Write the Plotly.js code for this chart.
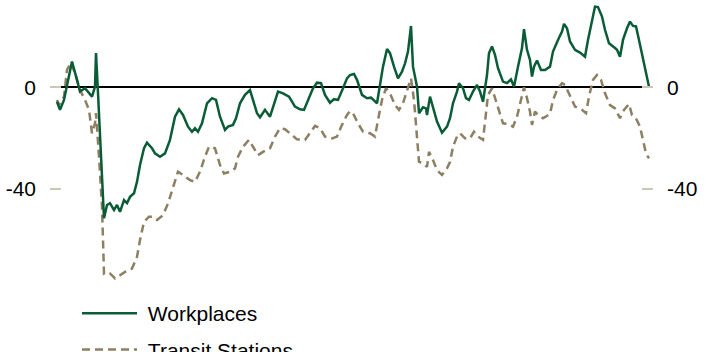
<!DOCTYPE html>
<html>
<head>
<meta charset="utf-8">
<script src="https://cdn.plot.ly/plotly-3.0.1.min.js"></script>
<style>
html, body { margin: 0; padding: 0; background: #ffffff; }
#chart { width: 708px; height: 352px; }
</style>
</head>
<body>
<div id="chart"></div>
<script>
// Days since start of series (x) and % change from baseline (y)
const workDays = [0,3,7,15,20,23,28,32,35,38,39,41,47,50,53,57,60,63,67,70,73,77,80,83,87,90,95,98,103,108,113,118,122,126,131,135,138,141,145,150,155,159,163,168,171,176,179,183,188,193,196,200,203,208,213,217,221,226,232,238,243,247,251,256,260,264,268,273,277,281,286,290,293,297,300,305,310,314,320,323,326,330,333,337,341,345,348,351,354,356,360,362,366,369,370,373,376,380,385,390,393,396,400,402,406,409,412,416,420,423,426,430,432,435,438,441,446,450,454,457,461,465,467,470,473,475,477,480,484,488,493,496,501,505,507,510,513,518,523,528,531,535,538,541,545,548,552,558,560,563,566,570,573,576,579,582,586,590,592];
const workValues = [-5.7,-8.9,-5.0,10.1,2.9,-1.7,-0.4,-2.2,-3.7,0.2,13.4,-2.2,-51.5,-46.3,-45.6,-48.3,-46.3,-49.0,-44.4,-45.6,-43.1,-41.7,-37.2,-30.6,-24.0,-21.8,-24.0,-26.0,-27.3,-26.0,-20.7,-11.6,-8.7,-10.9,-15.5,-17.5,-16.1,-17.5,-14.2,-6.3,-4.3,-5.0,-11.6,-16.8,-15.5,-14.8,-12.2,-6.3,-3.0,-1.1,-5.0,-10.2,-11.8,-8.9,-11.6,-6.3,-1.7,-2.4,-3.7,-7.6,-8.7,-8.9,-5.0,-0.4,1.8,1.6,-3.0,-6.1,-4.7,-5.0,-0.4,3.5,4.8,5.2,2.9,-3.0,-4.3,-4.1,-6.3,0.9,8.1,15.0,13.4,8.1,3.5,6.1,9.4,14.0,24.1,8.1,0.2,-10.2,-7.9,-8.3,-10.9,-3.7,-7.6,-13.5,-17.9,-15.5,-12.2,-6.3,-1.7,1.6,-0.4,-4.3,-5.0,-1.7,0.9,-1.7,-5.7,4.8,13.4,16.0,12.7,7.5,2.2,1.6,3.1,0.2,8.1,15.4,22.8,14.7,10.7,4.2,8.1,10.5,6.8,6.8,8.1,14.0,18.6,21.9,24.9,23.2,18.0,14.7,13.6,12.0,18.6,26.5,31.7,31.5,27.8,22.6,17.3,15.4,14.7,12.0,18.6,23.2,25.8,24.1,23.9,18.6,10.7,4.2,0.2];

const transitDays = [0,2,7,10,14,18,23,28,32,35,38,39,42,45,47,50,53,58,63,68,75,80,83,87,92,95,100,106,111,116,121,126,133,138,143,148,152,158,163,167,173,178,181,186,192,196,201,206,213,218,223,228,233,240,248,253,258,263,268,275,280,285,290,293,296,301,306,313,318,321,325,329,333,338,342,346,350,354,357,360,362,366,370,372,376,380,385,390,393,396,400,403,408,413,417,421,426,429,431,435,440,446,451,456,460,464,467,470,473,475,478,481,486,493,496,500,505,508,513,518,525,529,532,536,540,544,548,553,558,563,567,572,575,579,583,586,589,592];
const transitValues = [-5.0,-7.0,-3.7,6.8,9.7,5.5,-1.1,-5.0,-8.9,-18.1,-14.2,-10.2,-27.3,-47.0,-73.2,-72.6,-73.2,-75.2,-73.9,-72.6,-71.3,-66.7,-60.1,-52.9,-50.9,-50.9,-52.2,-50.3,-45.7,-39.1,-33.2,-34.5,-36.5,-37.2,-33.2,-27.3,-23.4,-24.0,-30.6,-33.9,-33.2,-31.9,-27.3,-23.4,-20.7,-23.4,-26.7,-25.4,-24.0,-19.4,-16.1,-16.5,-18.1,-20.5,-20.7,-18.1,-15.2,-16.1,-19.4,-20.1,-19.4,-14.8,-10.9,-9.4,-10.2,-14.2,-17.5,-18.1,-19.4,-12.9,-5.0,-0.4,-2.4,-7.0,-8.9,-6.3,-1.7,3.5,-5.0,-18.1,-29.3,-29.9,-31.3,-25.4,-28.6,-32.6,-34.5,-31.9,-29.4,-23.4,-19.4,-18.1,-20.1,-20.1,-17.5,-19.4,-20.7,-10.2,-3.0,-0.4,-6.3,-14.2,-14.4,-15.5,-11.6,-5.0,0.0,-4.3,-9.6,-14.8,-9.6,-10.9,-12.2,-10.5,-5.0,-1.1,1.6,0.9,-3.7,-7.6,-8.9,-10.2,-3.7,2.9,4.8,2.9,-2.4,-7.0,-8.3,-12.2,-8.9,-6.6,-10.9,-12.2,-15.5,-20.7,-26.0,-28.0];

const seriesNames = ["Workplaces", "Transit Stations"];
const yTickVals = [0, -40];
const yTickText = ["0", "-40"];

const FONT = "Liberation Sans, Arial, sans-serif";
const yRange = [-104.1, 34.3];
const xRange = [-7, 596];

const traces = [
  {
    x: workDays, y: workValues, name: "\u00a0" + seriesNames[0], type: "scatter", mode: "lines",
    yaxis: "y2", legendgroup: "a",
    line: { color: "#0a5c36", width: 2.5, shape: "linear" }
  },
  {
    x: transitDays, y: transitValues, name: "\u00a0" + seriesNames[1], type: "scatter", mode: "lines",
    yaxis: "y", legendgroup: "b",
    line: { color: "#8c7f62", width: 2.5, dash: "8px,5px" }
  }
];

const axisCommon = {
  range: yRange,
  tickvals: yTickVals,
  ticktext: yTickText,
  ticks: "inside",
  ticklen: 11,
  tickwidth: 2,
  tickcolor: "#cdc8b4",
  showgrid: false,
  showline: false,
  tickfont: { family: FONT, size: 21, color: "#000000" },
  ticklabelstandoff: 13,
  fixedrange: true
};

const layout = {
  width: 708, height: 352,
  margin: { l: 50, r: 55, t: 0, b: 0, pad: 0, autoexpand: false },
  paper_bgcolor: "#ffffff", plot_bgcolor: "#ffffff",
  showlegend: true,
  legend: {
    x: 0.0448, xanchor: "left", y: 0.1676, yanchor: "top",
    font: { family: FONT, size: 21, color: "#000000" },
    bgcolor: "rgba(0,0,0,0)", itemwidth: 55,
    traceorder: "grouped", tracegroupgap: 6
  },
  xaxis: { range: xRange, visible: false, fixedrange: true },
  yaxis: Object.assign({}, axisCommon, {
    side: "left", zeroline: true, zerolinecolor: "#000000", zerolinewidth: 2
  }),
  yaxis2: Object.assign({}, axisCommon, {
    side: "right", overlaying: "y", zeroline: false
  })
};

Plotly.newPlot("chart", traces, layout, { staticPlot: true, displayModeBar: false });
</script>
</body>
</html>
